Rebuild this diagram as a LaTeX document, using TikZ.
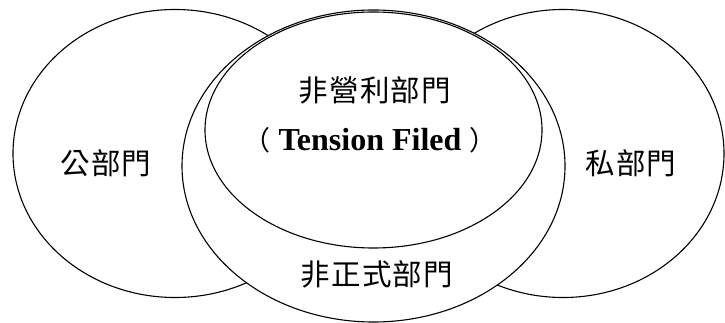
\documentclass[tikz,border=0pt]{standalone}
\usepackage{fontspec}
\setmainfont{Liberation Serif}
\newfontfamily\cjk[LetterSpace=4]{Noto Sans CJK TC}
\newfontfamily\cjkplain{Noto Sans CJK TC}
\tikzset{
  venn/.style={draw=black, line width=1.1pt, fill=white},
  cjklabel/.style={inner sep=0pt, font=\cjk\fontsize{29.5}{32}\selectfont},
}
\begin{document}
\begin{tikzpicture}[x=1pt,y=-1pt]
\useasboundingbox (0,0) rectangle (725,323);
\draw[venn] (175,153.5) ellipse [x radius=162pt, y radius=144pt];
\draw[venn] (563,153.5) ellipse [x radius=161pt, y radius=144pt];
\draw[venn] (373.5,166) ellipse [x radius=191.5pt, y radius=156pt];
\draw[venn] (373.5,130) ellipse [x radius=168.5pt, y radius=118pt];
\node[cjklabel] (pub) at (106,163) {公部門};
\node[cjklabel] (priv) at (631,163) {私部門};
\node[cjklabel] (npo) at (375,90) {非營利部門};
\node[cjklabel] (inf) at (377,274) {非正式部門};
\node[inner sep=0pt] (tf) at (370,140) {{\cjkplain\fontsize{27}{30}\selectfont （}{\fontsize{32}{36}\selectfont\bfseries\ Tension Filed\ }{\cjkplain\fontsize{27}{30}\selectfont ）}};
\end{tikzpicture}
\end{document}
